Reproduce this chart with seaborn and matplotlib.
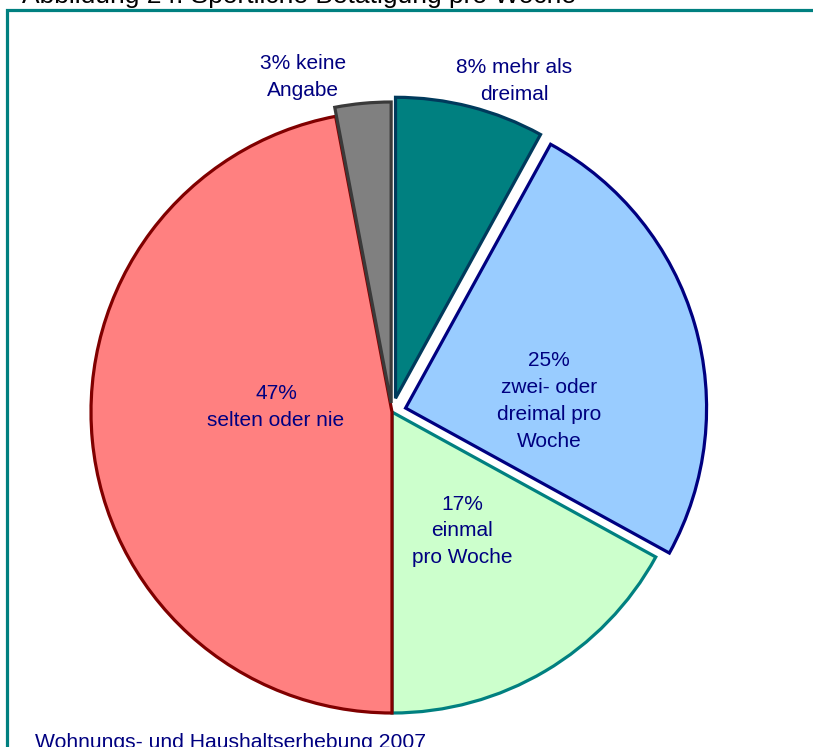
# Sportliche Betätigung pro Woche - Kreisdiagramm
import matplotlib
matplotlib.use('Agg')
import matplotlib.pyplot as plt
import seaborn as sns
from matplotlib.patches import Rectangle

sns.set_theme(style='white')
plt.rcParams['font.family'] = ['Liberation Sans', 'DejaVu Sans']

# Daten (im Uhrzeigersinn ab 12 Uhr)
anteile = [8, 25, 17, 47, 3]
texte = [' mehr als\ndreimal', '\nzwei- oder\ndreimal pro\nWoche', '\neinmal\npro Woche',
         '\nselten oder nie', ' keine\nAngabe']
farben = ['#008080', '#99ccff', '#ccffcc', '#ff8080', '#808080']
randfarben = ['#003a5c', '#000080', '#008080', '#800000', '#3a3a3a']
explode = [0.047, 0.047, 0, 0, 0.03]  # Anteil am Radius

# Beschriftungspositionen in Pixel (x, y von oben)
label_pos = [(514, 81), (549, 401), (462, 531), (276, 407), (303, 77)]

W, H = 813, 747
R = 301
fig = plt.figure(figsize=(W / 100, H / 100), dpi=100)
ax = fig.add_axes([0, 0, 1, 1])

# pie() verschiebt absolut, daher mit Radius skalieren
wedges, _ = ax.pie(anteile, colors=farben, explode=[e * R for e in explode],
                   startangle=90, counterclock=False, center=(392, H - 412),
                   radius=R, wedgeprops=dict(linewidth=2.3))
for w, ec in zip(wedges, randfarben):
    w.set_edgecolor(ec)

for a, t, (x, y) in zip(anteile, texte, label_pos):
    ax.text(x, H - y, f'{a}%{t}', ha='center', va='center', fontsize=15,
            color='#000080', linespacing=1.52)

# Rahmen
ax.add_patch(Rectangle((7, -50), 900, H - 10 + 50, fill=False,
                       edgecolor='#008080', lw=2.3, clip_on=False))

ax.text(22, H - 3, 'Abbildung 24: Sportliche Betätigung pro Woche',
        ha='left', va='baseline', fontsize=19, color='black')
ax.text(35, H - 733, 'Wohnungs- und Haushaltserhebung 2007',
        ha='left', va='top', fontsize=15.2, color='#000080')

ax.set_xlim(0, W)
ax.set_ylim(0, H)
ax.set_aspect('equal')
ax.axis('off')
fig.savefig('out.png', dpi=100)
